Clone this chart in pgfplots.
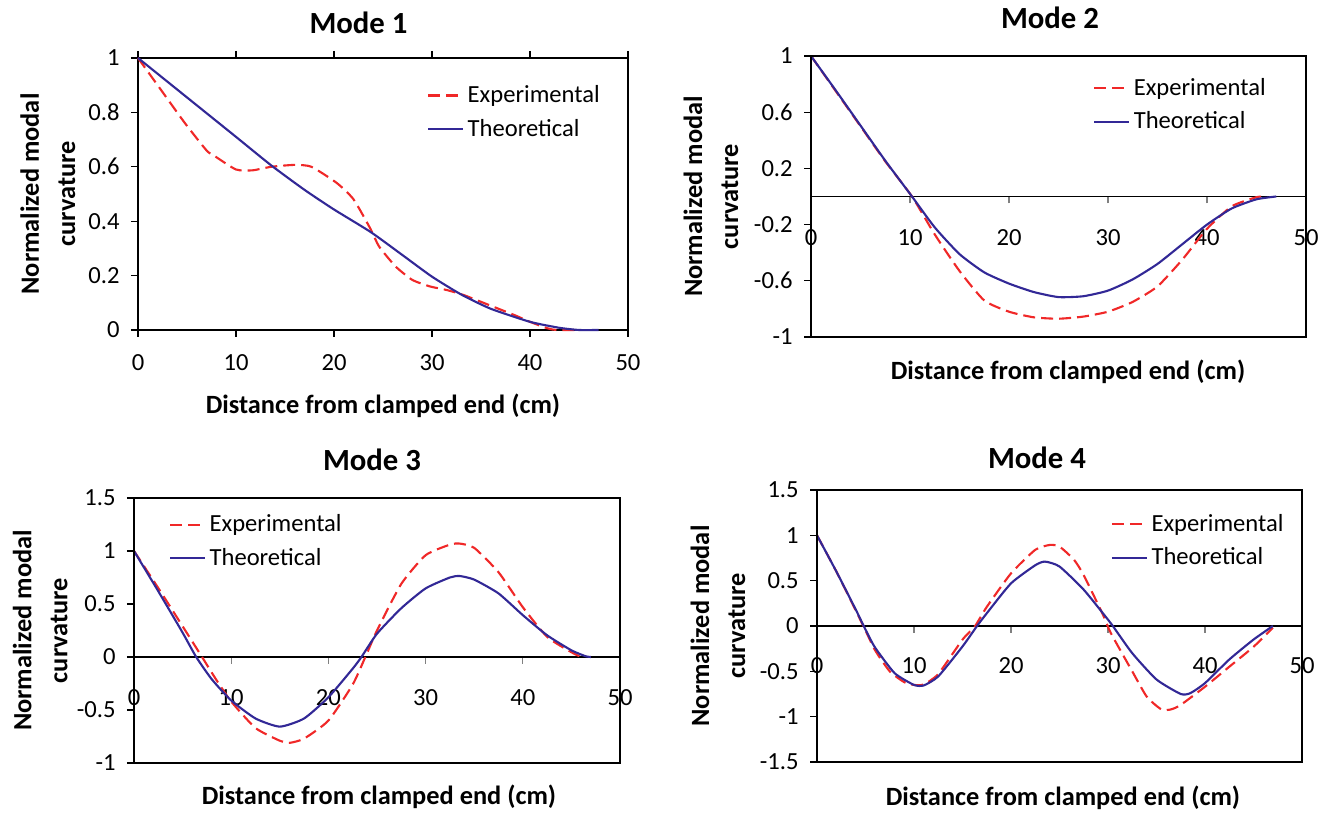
\documentclass[border=0pt]{standalone}
\usepackage{fontspec}
\setmainfont{Carlito}
\usepackage{pgfplots}
\pgfplotsset{compat=1.18}

\definecolor{expred}{RGB}{240,40,40}
\definecolor{theoblue}{RGB}{50,40,150}

\pgfplotsset{
  mode/.style={
    scale only axis,
    anchor=south west,
    xmin=0, xmax=50,
    xtick={0,10,20,30,40,50},
    xticklabels={0,10,20,30,40,50},
    ytick pos=left,
    tick align=outside,
    major tick length=0.14cm,
    tick style={line width=0.6pt, black},
    axis line style={line width=1pt, black, -},
    ticklabel style={font=\fontsize{14}{16}\selectfont},
    yticklabel style={inner sep=0pt, anchor=east, xshift=-0.22cm},
    title style={font=\bfseries\fontsize{17.5}{20}\selectfont, anchor=center, at={(rel axis cs:0.5,1)}},
    xlabel style={font=\bfseries\fontsize{15}{18}\selectfont, anchor=center, at={(rel axis cs:0.5,0)}},
    ylabel style={font=\bfseries\fontsize{15}{20.5}\selectfont, align=center},
    xlabel={Distance from clamped end (cm)},
    ylabel={Normalized modal\\curvature},
    legend style={draw=none, fill=none, inner sep=0pt, outer sep=0pt, anchor=west,
      font=\fontsize{14}{16}\selectfont, row sep=0.14cm},
    legend cell align=left,
    legend image code/.code={\draw[##1] (0cm,0cm) -- (0.70cm,0cm);},
    clip=false,
  },
  zeroaxis/.style={
    axis x line=middle, axis y line=left,
    x axis line style={draw=gray, line width=0.8pt, -},
    y axis line style={-},
    xtick style={draw=gray},
    hide obscured x ticks=false, hide obscured y ticks=false,
    after end axis/.code={\draw[line width=1pt] (rel axis cs:0,0) rectangle (rel axis cs:1,1);},
  },
  exp/.style={expred, line width=1.2pt, dash pattern=on 0.24cm off 0.12cm, smooth, tension=0.35},
  theo/.style={theoblue, line width=1.2pt, smooth, tension=0.35},
}

\begin{document}
\begin{tikzpicture}
\useasboundingbox (0,0) rectangle (26.6cm,16.26cm);

% Mode 1
\begin{axis}[mode,
  at={(2.76cm,9.66cm)}, width=9.80cm, height=5.44cm,
  ymin=0, ymax=1,
  ytick={0,0.2,0.4,0.6,0.8,1}, yticklabels={0,0.2,0.4,0.6,0.8,1},
  xticklabel style={anchor=center, yshift=-0.52cm},
  title={Mode 1}, title style={xshift=-0.49cm, yshift=0.50cm},
  xlabel style={yshift=-1.52cm},
  ylabel style={at={(rel axis cs:-0.184,0.5)}, anchor=center},
  legend style={at={(rel axis cs:0.590,0.800)}},
]
\addplot[exp] coordinates {(0,1)(2.2,0.89)(4.8,0.76)(7,0.66)(7.8,0.64)(10,0.59)(11.7,0.587)(13.6,0.6)(16,0.607)(17.7,0.6)(20.3,0.54)(22,0.48)(23.75,0.37)(24.6,0.307)(26.3,0.233)(28,0.184)(29.8,0.16)(31.5,0.147)(33.2,0.129)(35.8,0.092)(38.4,0.055)(40,0.03)(41.8,0.006)(42.7,0)(45,0)};
\addlegendentry{Experimental}
\addplot[theo] coordinates {(0,1)(5,0.855)(10,0.71)(13.6,0.605)(17,0.515)(20,0.443)(23.75,0.36)(27,0.275)(30,0.196)(33,0.13)(36,0.078)(40,0.03)(43,0.008)(45,0)(47,0)};
\addlegendentry{Theoretical}
\end{axis}

% Mode 2
\begin{axis}[zeroaxis, mode,
  at={(16.22cm,9.52cm)}, width=9.90cm, height=5.62cm,
  ymin=-1, ymax=1,
  ytick={-1,-0.6,-0.2,0.2,0.6,1}, yticklabels={-1,-0.6,-0.2,0.2,0.6,1},
  xticklabel style={anchor=center, yshift=-0.68cm},
  title={Mode 2}, title style={xshift=-0.17cm, yshift=0.56cm},
  xlabel style={at={(rel axis cs:0.5,0)}, anchor=center, xshift=0.19cm, yshift=-0.70cm},
  ylabel style={at={(rel axis cs:-0.202,0.5)}, anchor=center},
  legend style={at={(rel axis cs:0.570,0.826)}},
]
\addplot[exp] coordinates {(0,1)(2.5,0.75)(5,0.5)(7.5,0.25)(10.2,0)(12.5,-0.27)(15,-0.53)(17.5,-0.74)(20,-0.82)(22.5,-0.86)(25,-0.87)(27.5,-0.855)(30,-0.82)(32.5,-0.75)(35,-0.64)(37.5,-0.45)(40,-0.23)(42.5,-0.07)(45,-0.005)(46,0)};
\addlegendentry{Experimental}
\addplot[theo] coordinates {(0,1)(2.5,0.755)(5,0.505)(7.5,0.255)(10.2,0)(12.5,-0.22)(15,-0.41)(17.5,-0.54)(20,-0.62)(22.5,-0.68)(25,-0.716)(27.5,-0.71)(30,-0.67)(32.5,-0.59)(35,-0.48)(37.5,-0.34)(40,-0.2)(42.5,-0.085)(45,-0.02)(47,0)};
\addlegendentry{Theoretical}
\end{axis}

% Mode 3
\begin{axis}[zeroaxis, mode,
  at={(2.68cm,1.00cm)}, width=9.72cm, height=5.30cm,
  ymin=-1, ymax=1.5,
  ytick={-1,-0.5,0,0.5,1,1.5}, yticklabels={-1,-0.5,0,0.5,1,1.5},
  xticklabel style={anchor=center, yshift=-0.68cm},
  title={Mode 3}, title style={xshift=-0.10cm, yshift=0.56cm},
  xlabel style={at={(rel axis cs:0.5,0)}, anchor=center, xshift=0.04cm, yshift=-0.68cm},
  ylabel style={at={(rel axis cs:-0.193,0.5)}, anchor=center},
  legend style={at={(rel axis cs:0.072,0.836)}},
]
\addplot[exp] coordinates {(0,1)(2.5,0.65)(5,0.29)(7,0)(8.5,-0.22)(10,-0.42)(12.5,-0.67)(15,-0.79)(16,-0.81)(17.5,-0.77)(20,-0.6)(22.5,-0.26)(23.8,0)(25,0.25)(27.5,0.69)(30,0.96)(32.5,1.06)(33.5,1.07)(35,1.03)(37.5,0.8)(40,0.47)(42.5,0.19)(45,0.045)(46,0)};
\addlegendentry{Experimental}
\addplot[theo] coordinates {(0,1)(2.5,0.62)(5,0.23)(6.4,0)(8,-0.21)(10,-0.41)(12.5,-0.58)(15,-0.657)(17.5,-0.58)(20,-0.38)(22.5,-0.11)(23.4,0)(25,0.22)(27.5,0.46)(30,0.647)(32.5,0.75)(33.5,0.764)(35,0.73)(37.5,0.6)(40,0.395)(42.5,0.205)(45,0.063)(46.5,0.006)(47,0)};
\addlegendentry{Theoretical}
\end{axis}

% Mode 4
\begin{axis}[zeroaxis, mode,
  at={(16.34cm,1.02cm)}, width=9.70cm, height=5.44cm,
  ymin=-1.5, ymax=1.5,
  ytick={-1.5,-1,-0.5,0,0.5,1,1.5}, yticklabels={-1.5,-1,-0.5,0,0.5,1,1.5},
  xticklabel style={anchor=center, yshift=-0.66cm},
  title={Mode 4}, title style={xshift=-0.45cm, yshift=0.44cm},
  xlabel style={at={(rel axis cs:0.5,0)}, anchor=center, xshift=0.07cm, yshift=-0.72cm},
  ylabel style={at={(rel axis cs:-0.204,0.5)}, anchor=center},
  legend style={at={(rel axis cs:0.606,0.813)}},
]
\addplot[exp] coordinates {(0,1)(2,0.6)(4,0.17)(5,-0.05)(6,-0.27)(7.5,-0.5)(9,-0.62)(10,-0.65)(11,-0.645)(12.5,-0.53)(15,-0.15)(16.3,0)(17.5,0.21)(20,0.58)(22.5,0.84)(24,0.894)(25,0.876)(26.5,0.73)(27.5,0.56)(29.5,0.12)(30.3,-0.08)(32.5,-0.5)(34,-0.78)(35.5,-0.92)(36.5,-0.92)(37.5,-0.87)(40,-0.67)(42.5,-0.45)(45,-0.23)(47,-0.02)};
\addlegendentry{Experimental}
\addplot[theo] coordinates {(0,1)(2,0.6)(4,0.18)(5,-0.04)(6,-0.24)(8,-0.52)(10,-0.65)(11,-0.656)(12.5,-0.556)(15,-0.226)(16.5,0)(17.5,0.14)(20,0.47)(22.5,0.67)(23.5,0.71)(25,0.656)(27.5,0.4)(30,0.07)(30.5,0)(32.5,-0.3)(35,-0.59)(37.5,-0.75)(38.5,-0.74)(40,-0.63)(42.5,-0.37)(45,-0.15)(47,0)};
\addlegendentry{Theoretical}
\end{axis}
\end{tikzpicture}
\end{document}
